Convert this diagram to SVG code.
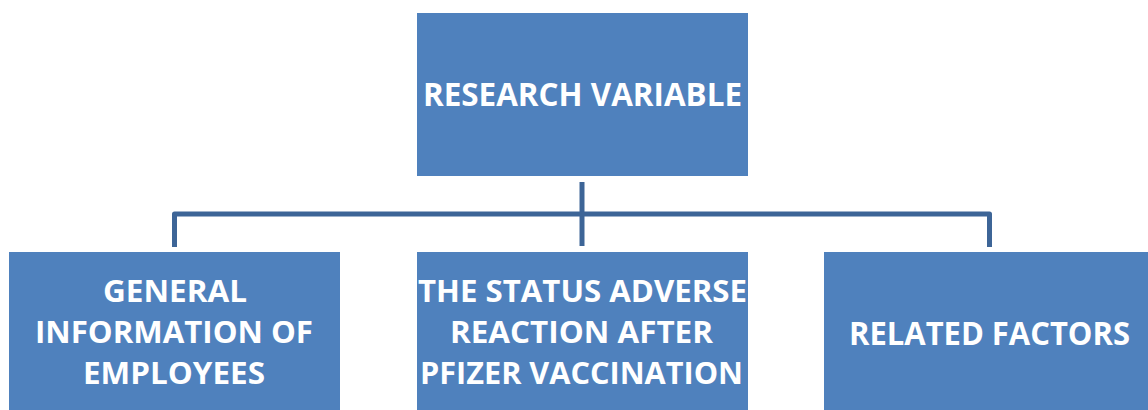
<svg xmlns="http://www.w3.org/2000/svg" width="1148" height="410" viewBox="0 0 1148 410">
  <style>
    .box { fill: #4f81bd; }
    .lbl { fill: #ffffff; font-family: "Open Sans", "Liberation Sans", sans-serif; font-weight: bold; font-size: 30px; text-anchor: middle; }
    .big { font-size: 32px; }
    .wire { fill: none; stroke: #3d6597; stroke-width: 5; stroke-linejoin: round; }
  </style>
  <rect width="1148" height="410" fill="#ffffff"/>

  <!-- tree connectors -->
  <g id="connectors">
    <path class="wire" d="M582 182 V246"/>
    <path class="wire" d="M174.5 247 V214 H989.5 V247"/>
  </g>

  <g id="research-variable">
    <rect class="box" x="417" y="13" width="331" height="163"/>
    <text class="lbl big" x="582.5" y="106" textLength="319" lengthAdjust="spacingAndGlyphs">RESEARCH VARIABLE</text>
  </g>

  <g id="general-information">
    <rect class="box" x="9" y="252" width="331" height="170"/>
    <text class="lbl" x="175" y="302" textLength="144" lengthAdjust="spacingAndGlyphs">GENERAL</text>
    <text class="lbl" x="174" y="343" textLength="278" lengthAdjust="spacingAndGlyphs">INFORMATION OF</text>
    <text class="lbl" x="174" y="384" textLength="182" lengthAdjust="spacingAndGlyphs">EMPLOYEES</text>
  </g>

  <g id="adverse-reaction">
    <rect class="box" x="417" y="252" width="331" height="170"/>
    <text class="lbl" x="582.5" y="302" textLength="329" lengthAdjust="spacingAndGlyphs">THE STATUS ADVERSE</text>
    <text class="lbl" x="581.5" y="343" textLength="263" lengthAdjust="spacingAndGlyphs">REACTION AFTER</text>
    <text class="lbl" x="581.5" y="384" textLength="323" lengthAdjust="spacingAndGlyphs">PFIZER VACCINATION</text>
  </g>

  <g id="related-factors">
    <rect class="box" x="824" y="252" width="331" height="170"/>
    <text class="lbl big" x="989.5" y="345" textLength="281" lengthAdjust="spacingAndGlyphs">RELATED FACTORS</text>
  </g>
</svg>
